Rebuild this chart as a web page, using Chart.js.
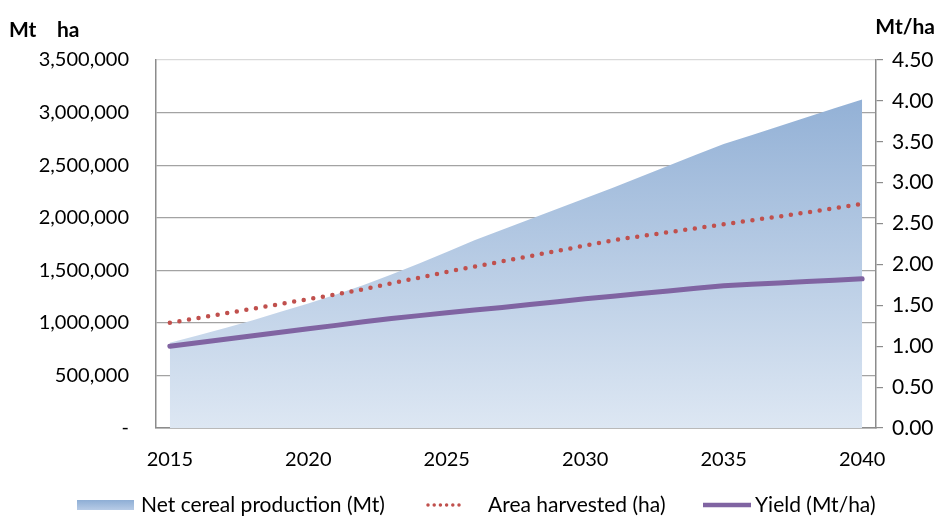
<!DOCTYPE html>
<html>
<head>
<meta charset="utf-8">
<script src="https://cdn.jsdelivr.net/npm/chart.js@4.4.1/dist/chart.umd.min.js"></script>
<style>
  html, body { margin: 0; padding: 0; background: #ffffff; }
  #wrap { width: 939px; height: 516px; }
</style>
</head>
<body>
<div id="wrap"><canvas id="chart" width="939" height="516"></canvas></div>
<script>
// Projection years
const years = [2015, 2016, 2017, 2018, 2019, 2020, 2021, 2022, 2023, 2024, 2025, 2026, 2027,
               2028, 2029, 2030, 2031, 2032, 2033, 2034, 2035, 2036, 2037, 2038, 2039, 2040];

// Net cereal production (Mt) – left axis
const production = [810000, 880000, 950000, 1025000, 1105000, 1185000, 1270000, 1360000, 1460000,
                    1565000, 1675000, 1785000, 1885000, 1985000, 2085000, 2185000, 2285000, 2390000,
                    2495000, 2600000, 2700000, 2785000, 2870000, 2955000, 3040000, 3125000];

// Area harvested (ha) – left axis
const areaHarvested = [1000000, 1045000, 1090000, 1135000, 1180000, 1225000, 1270000, 1320000, 1375000,
                       1430000, 1485000, 1535000, 1585000, 1635000, 1685000, 1735000, 1785000, 1825000,
                       1862000, 1900000, 1938000, 1975000, 2012000, 2050000, 2090000, 2132000];

// Yield (Mt/ha) – right axis
const yieldPerHa = [1.00, 1.043, 1.085, 1.128, 1.17, 1.213, 1.255, 1.298, 1.34, 1.374, 1.408, 1.442, 1.474,
                    1.51, 1.545, 1.58, 1.61, 1.645, 1.675, 1.71, 1.74, 1.757, 1.774, 1.791, 1.808, 1.825];

// Axis labelling
const labelledYears = [2015, 2020, 2025, 2030, 2035, 2040];
const leftTickValues = [0, 500000, 1000000, 1500000, 2000000, 2500000, 3000000, 3500000];
const rightTickValues = [0, 0.5, 1, 1.5, 2, 2.5, 3, 3.5, 4, 4.5];

const FONT = 'Lato, "Open Sans", "Liberation Sans", sans-serif';
const AXIS_GREY = '#8c8c8c';
const GRID_GREY = '#a3a3a3';

function productionGradient(context) {
  const chart = context.chart;
  const area = chart.chartArea;
  if (!area) return '#b8cce4';
  const yScale = chart.scales.y;
  const topY = yScale.getPixelForValue(Math.max(...production));
  const g = chart.ctx.createLinearGradient(0, topY, 0, area.bottom);
  g.addColorStop(0, '#93b1d6');
  g.addColorStop(1, '#dde7f3');
  return g;
}

function fmtThousands(v) {
  if (v === 0) return '-';
  return v.toLocaleString('en-US');
}

// Unit captions above the two value axes
const unitCaptions = {
  id: 'unitCaptions',
  afterDraw(chart) {
    const ctx = chart.ctx;
    ctx.save();
    ctx.fillStyle = '#000';
    ctx.font = 'bold 21px ' + FONT;
    ctx.textBaseline = 'middle';
    ctx.textAlign = 'left';
    ctx.fillText('Mt', 9, 30);
    ctx.fillText('ha', 57, 30);
    ctx.textAlign = 'right';
    ctx.fillText('Mt/ha', 935, 27);
    ctx.restore();
  }
};

// Legend row along the bottom, styled from the datasets
const bottomLegend = {
  id: 'bottomLegend',
  afterDraw(chart) {
    const ctx = chart.ctx;
    const ds = chart.data.datasets;
    const cy = 505;
    ctx.save();
    ctx.font = '21px ' + FONT;
    ctx.fillStyle = '#000';
    ctx.textBaseline = 'middle';
    ctx.textAlign = 'left';

    // area swatch
    const g = ctx.createLinearGradient(0, cy - 5, 0, cy + 5);
    g.addColorStop(0, '#8eaed5');
    g.addColorStop(1, '#b7cbe6');
    ctx.fillStyle = g;
    ctx.fillRect(77, cy - 5, 57, 10);
    ctx.fillStyle = '#000';
    ctx.fillText(ds[0].label, 141, cy);

    // dotted line sample
    ctx.beginPath();
    ctx.strokeStyle = ds[1].borderColor;
    ctx.lineWidth = 3.5;
    ctx.lineCap = 'round';
    ctx.setLineDash([0, 6.2]);
    ctx.moveTo(428, cy);
    ctx.lineTo(463, cy);
    ctx.stroke();
    ctx.setLineDash([]);
    ctx.fillText(ds[1].label, 488, cy);

    // solid line sample
    ctx.beginPath();
    ctx.strokeStyle = ds[2].borderColor;
    ctx.lineWidth = 4.5;
    ctx.lineCap = 'butt';
    ctx.moveTo(703, cy);
    ctx.lineTo(751, cy);
    ctx.stroke();
    ctx.fillText(ds[2].label, 755, cy);
    ctx.restore();
  }
};

new Chart(document.getElementById('chart'), {
  type: 'line',
  data: {
    labels: years,
    datasets: [
      {
        label: 'Net cereal production (Mt)',
        data: production,
        yAxisID: 'y',
        fill: 'origin',
        backgroundColor: productionGradient,
        borderWidth: 0,
        pointRadius: 0,
        tension: 0,
        order: 3
      },
      {
        label: 'Area harvested (ha)',
        data: areaHarvested,
        yAxisID: 'y',
        fill: false,
        borderColor: '#c0504d',
        borderWidth: 4.5,
        borderDash: [0, 9.7],
        borderCapStyle: 'round',
        pointRadius: 0,
        tension: 0,
        order: 2
      },
      {
        label: 'Yield (Mt/ha)',
        data: yieldPerHa,
        yAxisID: 'y1',
        fill: false,
        borderColor: '#8064a2',
        borderWidth: 5,
        borderCapStyle: 'round',
        borderJoinStyle: 'round',
        pointRadius: 0,
        tension: 0,
        order: 1
      }
    ]
  },
  options: {
    responsive: false,
    animation: false,
    layout: { padding: { top: 60, left: 0, right: 0, bottom: 0 } },
    plugins: {
      legend: { display: false },
      tooltip: { enabled: false }
    },
    scales: {
      x: {
        type: 'category',
        offset: true,
        grid: { display: false },
        border: { display: true, color: AXIS_GREY, width: 1.5 },
        ticks: {
          autoSkip: false,
          maxRotation: 0,
          padding: 12,
          color: '#000',
          font: { family: FONT, size: 20 },
          callback(value, index) {
            const yr = years[index];
            return labelledYears.includes(yr) ? String(yr) : '';
          }
        },
        afterFit(scale) { scale.height = 88; }
      },
      y: {
        position: 'left',
        min: 0,
        max: 3500000,
        afterBuildTicks(scale) { scale.ticks = leftTickValues.map(v => ({ value: v })); },
        grid: {
          color(ctx) { return ctx.tick && ctx.tick.value === 3500000 ? '#d9d9d9' : GRID_GREY; },
          lineWidth: 1.2,
          drawTicks: false
        },
        border: { display: true, color: AXIS_GREY, width: 1.5 },
        ticks: {
          padding: 27,
          color: '#000',
          font: { family: FONT, size: 20 },
          callback(value) { return fmtThousands(value); }
        },
        afterFit(scale) { scale.width = 156; }
      },
      y1: {
        position: 'right',
        min: 0,
        max: 4.5,
        afterBuildTicks(scale) { scale.ticks = rightTickValues.map(v => ({ value: v })); },
        grid: {
          drawOnChartArea: false,
          drawTicks: true,
          tickLength: 7,
          tickColor: AXIS_GREY,
          lineWidth: 1.2
        },
        border: { display: true, color: AXIS_GREY, width: 1.5 },
        ticks: {
          padding: 9,
          color: '#000',
          font: { family: FONT, size: 21 },
          callback(value) { return Number(value).toFixed(2); }
        },
        afterFit(scale) { scale.width = 63; }
      }
    }
  },
  plugins: [unitCaptions, bottomLegend]
});
</script>
</body>
</html>
